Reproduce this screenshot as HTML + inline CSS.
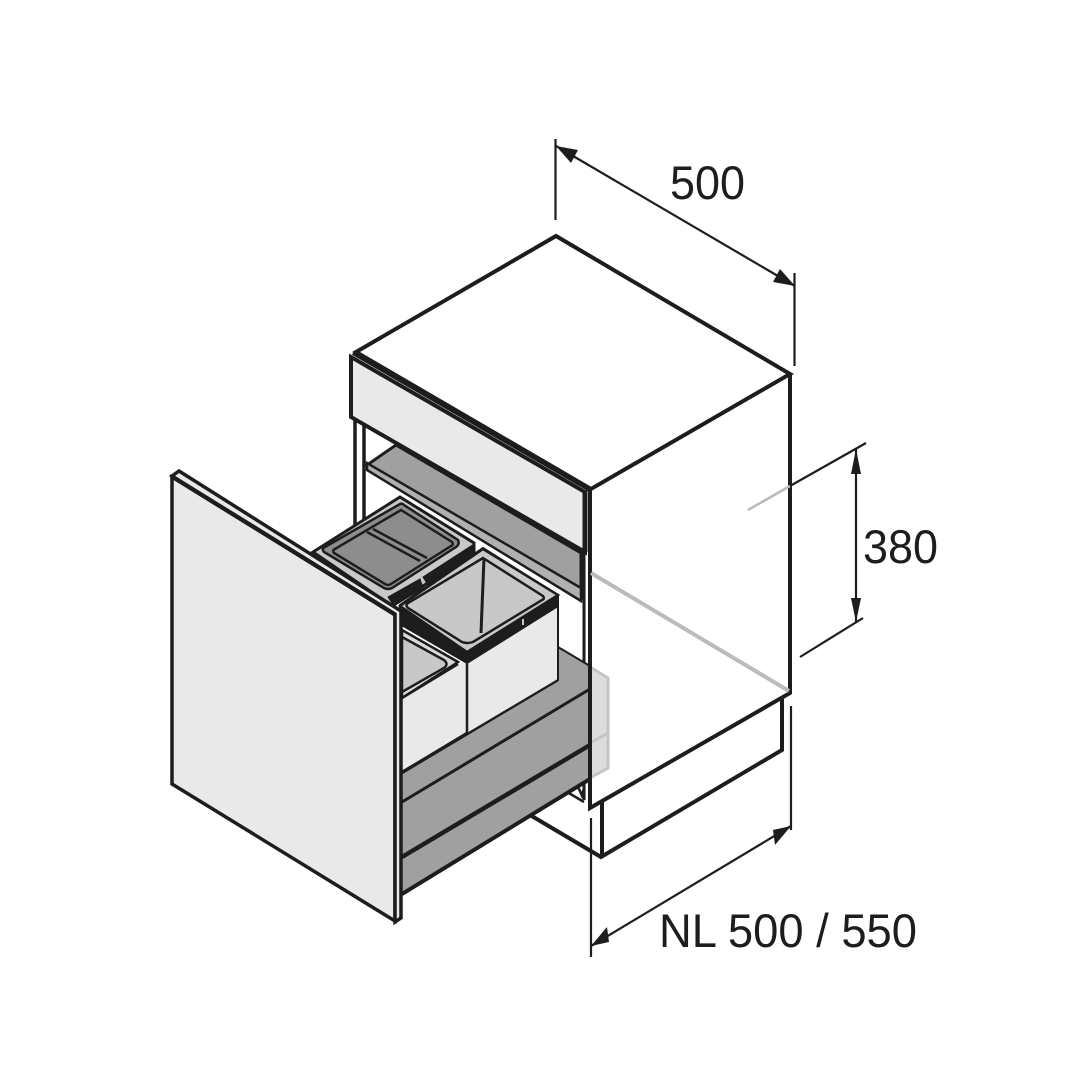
<!DOCTYPE html>
<html><head><meta charset="utf-8"><title>Diagram</title>
<style>html,body{margin:0;padding:0;background:#fff}svg{display:block}text{font-family:"Liberation Sans",sans-serif;fill:#1d1d1b;font-size:47px}</style>
</head><body>
<svg xmlns="http://www.w3.org/2000/svg" width="1080" height="1080" viewBox="0 0 1080 1080">
<rect width="1080" height="1080" fill="#fff"/>
<g stroke="#1d1d1b" fill="none" stroke-linejoin="miter">
<!-- plinth -->
<path d="M530 815L601 857L782 750V699M602 800V857" stroke-width="4"/>
<!-- back legs -->
<path d="M355 417V526M364 424V520" stroke-width="3.5"/>
<path d="M567 792L584 802M575 780L583 798V790" stroke-width="2.500"/>
<path d="M584 552V800" stroke-width="3"/>
<!-- shelf -->
<path d="M396 445L581 553V597L367 465Z" fill="#a0a0a0" stroke-width="3"/>
<path d="M367 463V470L581 601V588L367 463Z" fill="#b0b0b0" stroke-width="2.500"/>
<!-- translucent back -->
<path d="M590 667L608 678V768L590 778Z" fill="#dcdcdc" stroke="#c4c4c4" stroke-width="3"/>
<path d="M590 743L608 733" stroke="#c4c4c4" stroke-width="3"/>
<!-- grey rails -->
<path d="M402 773L558 647L590 666V778L402 892Z" fill="#a0a0a0" stroke="none"/>
<path d="M402 773L558 680" stroke-width="2.500"/>
<path d="M558 647L590 666" stroke-width="2"/>
<path d="M402 802L590 689" stroke-width="3"/>
<path d="M402 857L590 745" stroke-width="4.500"/>
<path d="M402 894L590 779" stroke-width="4"/>
<!-- back bin -->
<path d="M400 497L474 543V553L392 606L313 552Z" fill="#c9c9c9" stroke-width="3"/>
<path d="M388 597L420 579L423 588L394 606Z" fill="#1d1d1b" stroke-width="1"/>
<path d="M423 577L474 544V553L428 585Z" fill="#1d1d1b" stroke-width="1"/>
<path d="M400 504Q402 503 404 505L458 540Q460 544 456 547L392 588Q388 590 384 588L324 552Q321 549 325 547Z" fill="#8d8d8d" stroke-width="2.500"/>
<path d="M401 510L452 542Q454 545 451 546L391 584Q388 586 385 584L334 553Q332 550 335 549Z" fill="#8d8d8d" stroke-width="2.500"/>
<path d="M367 532L420 561M373 529L427 558" stroke-width="2.500"/>
<!-- left bin -->
<path d="M402 630L458 662L402 698Z" fill="#dadada" stroke-width="2.500"/>
<path d="M402 637L444 660Q449 664 444 668L402 692Z" fill="#c8c8c8" stroke-width="2.500"/>
<path d="M402 698L467 660V733L402 772Z" fill="#e9e9e9" stroke="none"/>
<path d="M402 772L467 733" stroke-width="2.500"/>
<path d="M402 698L458 664" stroke-width="2.500"/>
<!-- front bin -->
<path d="M467 663L557 605V680L467 734Z" fill="#e9e9e9" stroke="none"/>
<path d="M467 734L558 680V600" stroke-width="2"/>
<path d="M467 660V733" stroke-width="2.500"/>
<path d="M400 605L483 548L558 595V606L467 663L400 624Z" fill="#1d1d1b" stroke-width="2"/>
<path d="M400 606L483 549L558 595L467 652Z" fill="#c9c9c9" stroke-width="2.500"/>
<path d="M483 558L543 596Q545 599 542 600L473 642Q467 644 462 642L408 608Q405 605 408 603Z" fill="#c8c8c8" stroke-width="2.500"/>
<path d="M484 558L481 633" stroke-width="3"/>
<path d="M523 619V625" stroke="#fff" stroke-width="1.500"/>
<!-- top drawer panel -->
<path d="M351 357L585 492V552L351 417Z" fill="#e9e9e9" stroke-width="4"/>
<path d="M353 353L590 490" stroke-width="4"/>
<path d="M585 490V552" stroke-width="5"/>
<path d="M359 354L590 489" stroke-width="4"/>
<!-- cabinet -->
<path d="M356 352L556 236L790 374L591 489Z" fill="#fff" stroke-width="4"/>
<path d="M590 489V808L790 693V374" stroke-width="4"/>
<path d="M591 573L789 691" stroke="#bbb" stroke-width="4"/>
<path d="M748 510L790 486" stroke="#bbb" stroke-width="2.500"/>
<!-- front panel -->
<path d="M172 477L395 615V921L172 784Z" fill="#e9e9e9" stroke-width="3.500"/>
<path d="M172 476L179 471L401 611V918L395 922V614Z" fill="#e9e9e9" stroke-width="3.500"/>
<!-- dimensions -->
<g stroke-width="2.200">
<path d="M555.500 139V220M794.500 273V366M556 146L795 286"/>
<path d="M790 486L866 443M800 657L863 618M856 449V622"/>
<path d="M591 818V957M791 706V830M591 946L791 826"/>
</g>
<g fill="#1d1d1b" stroke="none">
<path d="M556 146L578 150L571 163Z"/><path d="M795 286L773 282L780 269Z"/>
<path d="M856 449L861 474H851Z"/><path d="M856 622L851 598H861Z"/>
<path d="M591 946L607 927L609 942Z"/><path d="M791 826L775 845L773 830Z"/>
</g>
</g>
<text x="670" y="199" textLength="75" lengthAdjust="spacingAndGlyphs">500</text>
<text x="863" y="563" textLength="75" lengthAdjust="spacingAndGlyphs">380</text>
<text x="659" y="947" textLength="258" lengthAdjust="spacingAndGlyphs">NL 500 / 550</text>
</svg>
</body></html>
